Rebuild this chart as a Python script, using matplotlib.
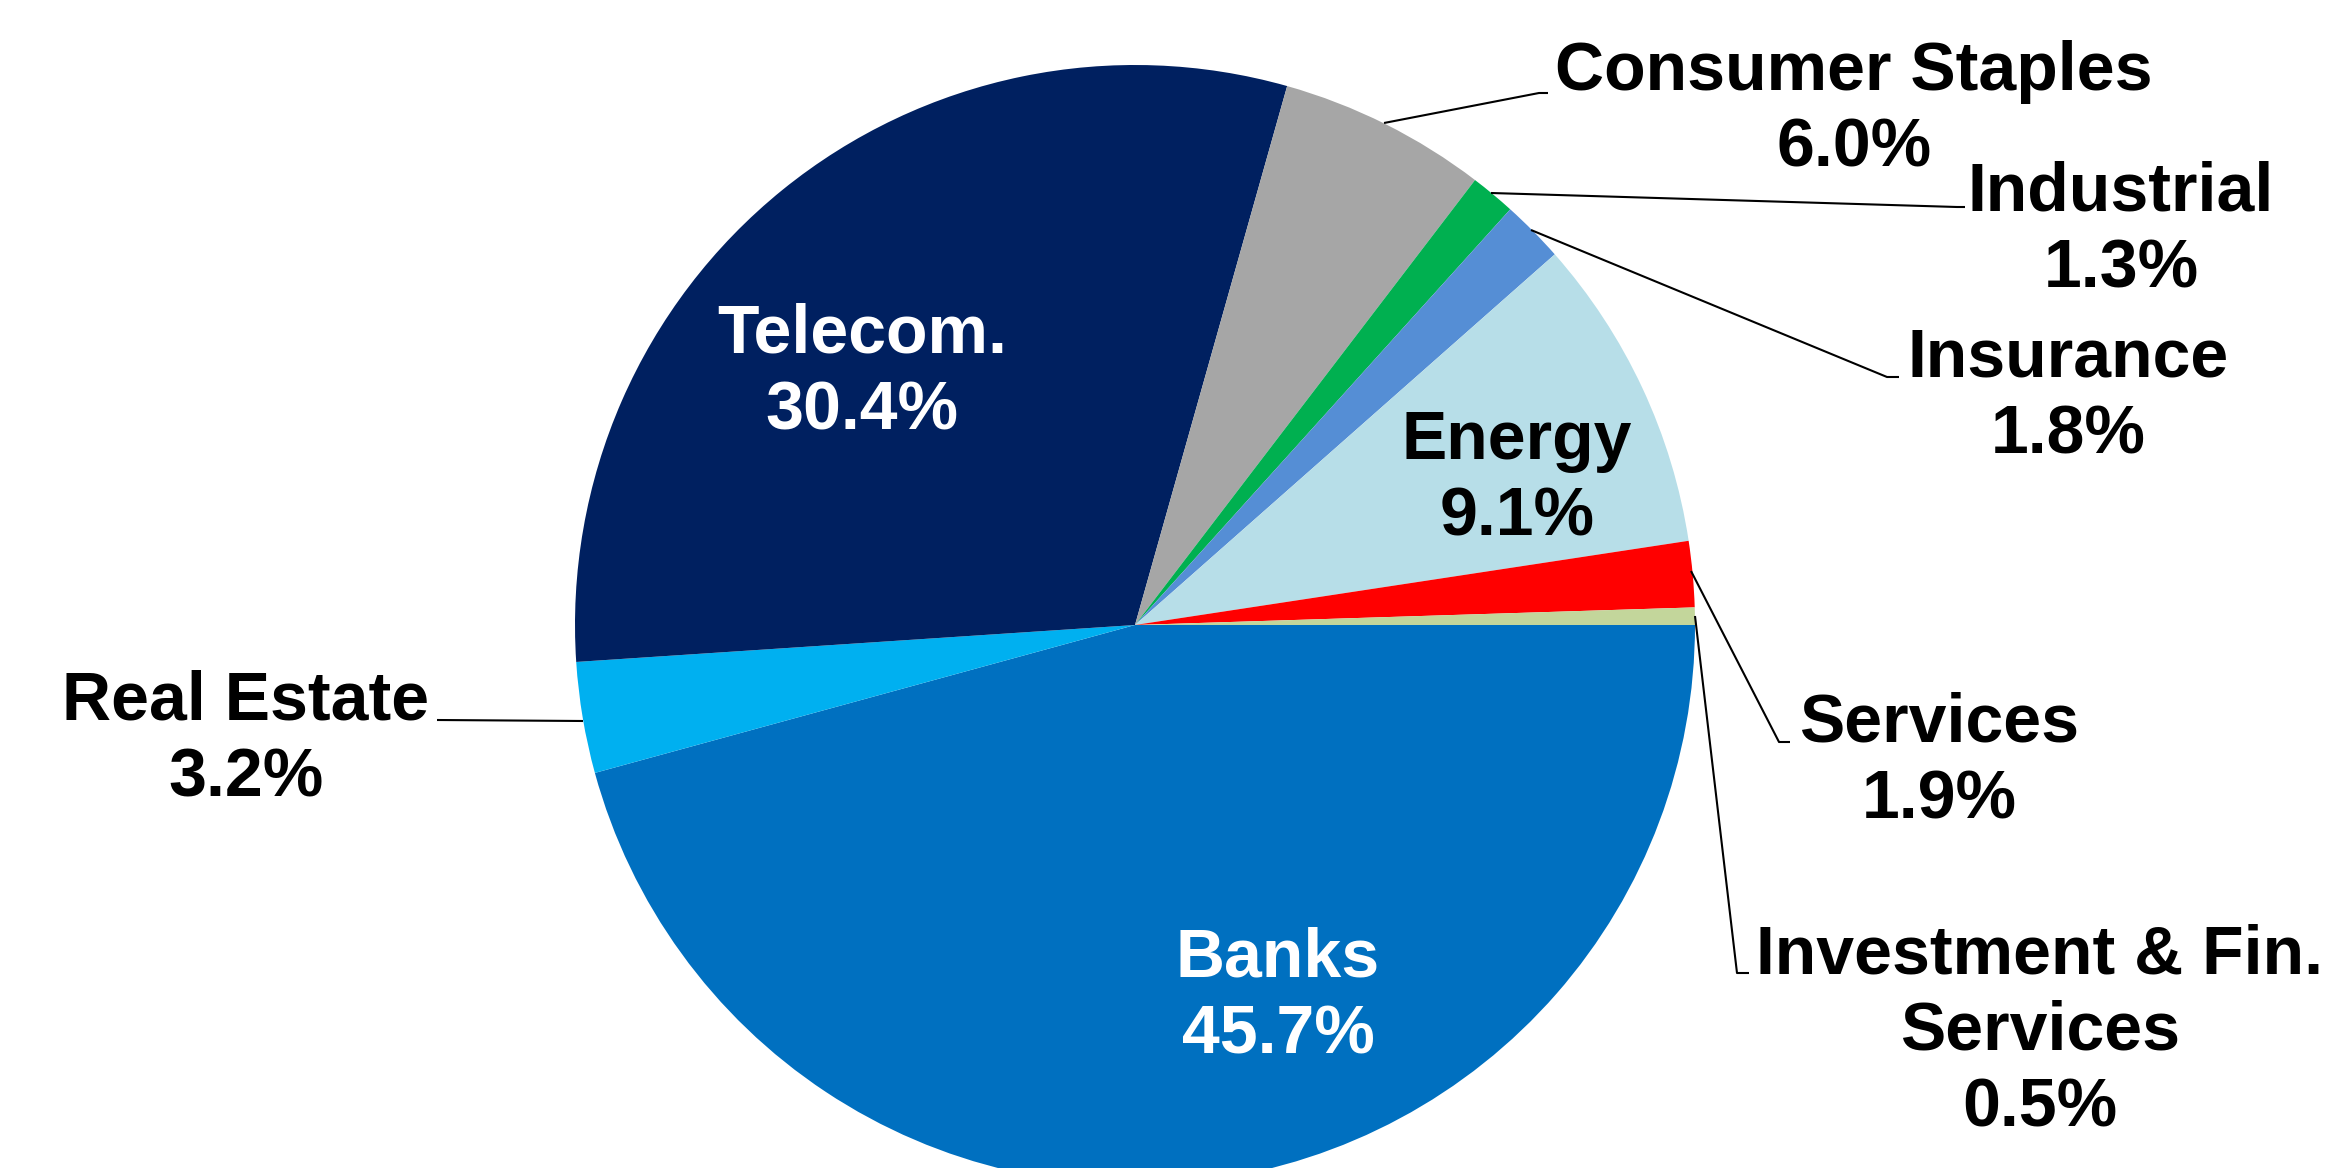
import matplotlib
matplotlib.use("Agg")
import matplotlib.pyplot as plt

categories = ["Banks", "Real Estate", "Telecom.", "Consumer Staples", "Industrial",
              "Insurance", "Energy", "Services", "Investment & Fin.\nServices"]
values = [45.7, 3.2, 30.4, 6.0, 1.3, 1.8, 9.1, 1.9, 0.5]
colors = ["#0070C0", "#00B0F0", "#002060", "#A6A6A6", "#00B050",
          "#558ED5", "#B7DEE8", "#FF0000", "#C3D69B"]

W, H = 2350, 1168
CX, CY, R = 1135, 625, 560

plt.rcParams['font.family'] = ['Liberation Sans', 'DejaVu Sans']
fig = plt.figure(figsize=(W / 100, H / 100), dpi=100)
ax = fig.add_axes([0, 0, 1, 1])

ax.pie(values, colors=colors, startangle=0, counterclock=False, radius=1,
       center=(0, 0), wedgeprops=dict(linewidth=0), frame=True)
ax.set_xlim(-CX / R, (W - CX) / R)
ax.set_ylim((CY - H) / R, CY / R)
ax.set_aspect("auto")
ax.axis("off")


def d(px, py):
    return (px - CX) / R, (CY - py) / R


FS = 49
labels = {
    # name: (pixel x, pixel y of block center, text color)
    "Banks": (1278, 997, "white"),
    "Telecom.": (862, 373, "white"),
    "Energy": (1517, 479, "black"),
    "Real Estate": (246, 740, "black"),
    "Consumer Staples": (1854, 110, "black"),
    "Industrial": (2121, 231, "black"),
    "Insurance": (2068, 397, "black"),
    "Services": (1939, 762, "black"),
    "Investment & Fin.\nServices": (2040, 1032, "black"),
}
for name, v in zip(categories, values):
    px, py, c = labels[name]
    x, y = d(px, py)
    ax.text(x, y, f"{name}\n{v:.1f}%", ha="center", va="center", color=c,
            fontsize=FS, fontweight="bold", linespacing=1.25)

leaders = [
    [(1384, 123), (1539, 93), (1548, 93)],
    [(1491, 193), (1957, 207), (1965, 207)],
    [(1531, 230), (1887, 377), (1899, 377)],
    [(1691, 571), (1779, 742), (1790, 742)],
    [(1695, 616), (1737, 973), (1749, 973)],
    [(583, 721), (437, 720)],
]
for pts in leaders:
    xs, ys = zip(*[d(*p) for p in pts])
    ax.plot(xs, ys, color="black", linewidth=1.5, solid_capstyle="butt")

fig.savefig("out.png", dpi=100)
